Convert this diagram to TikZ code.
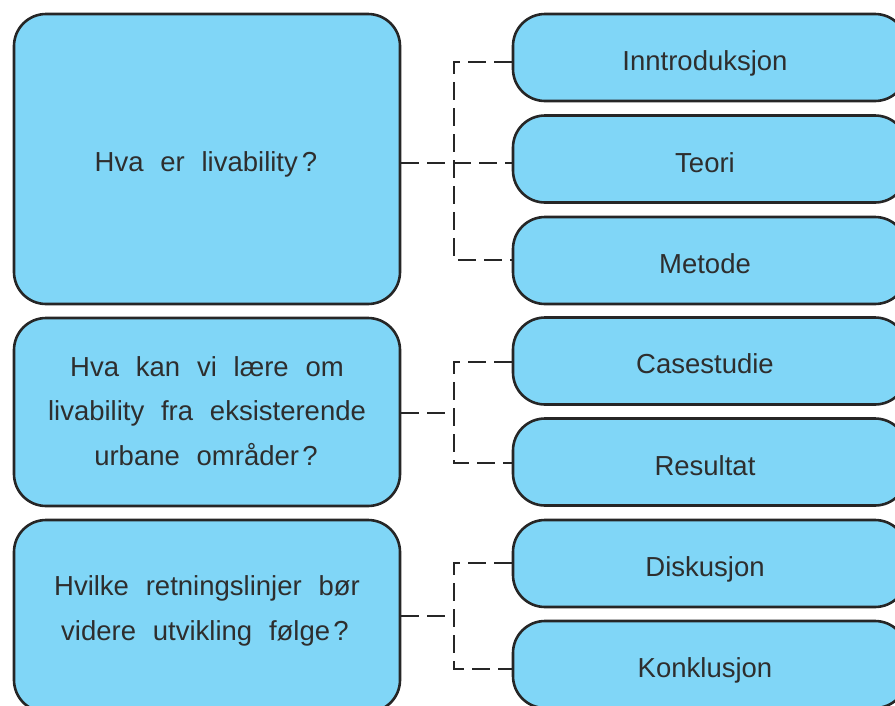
\documentclass[tikz,border=0pt]{standalone}
\usepackage{fontspec}
\setmainfont{Liberation Sans}[WordSpace=2.2]
\definecolor{boxblue}{HTML}{80D6F7}
\definecolor{boxline}{HTML}{262626}
\definecolor{txtdark}{HTML}{2E2E2E}
\begin{document}
\begin{tikzpicture}[x=1pt,y=-1pt,
  box/.style={draw=boxline,fill=boxblue,line width=2.6pt,rounded corners=32pt,inner sep=0pt},
  qbox/.style={box,minimum width=386pt},
  rbox/.style={box,minimum width=394pt,minimum height=87pt},
  txt/.style={anchor=base,inner sep=0pt,text=txtdark,font=\fontsize{27.5}{33}\selectfont},
  conn/.style={draw=boxline,line width=2.6pt,dash pattern=on 18pt off 8pt}]
\useasboundingbox (0,0) rectangle (895,705);
% left question boxes
\node[qbox,minimum height=290pt] (q1) at (207,159) {};
\node[qbox,minimum height=188pt] (q2) at (207,412) {};
\node[qbox,minimum height=192pt] (q3) at (207,616) {};
% right boxes
\node[rbox] (r1) at (710,57.5) {};
\node[rbox] (r2) at (710,159) {};
\node[rbox] (r3) at (710,260.5) {};
\node[rbox] (r4) at (710,361) {};
\node[rbox] (r5) at (710,462) {};
\node[rbox] (r6) at (710,563.5) {};
\node[rbox] (r7) at (710,664.5) {};
% texts
\node[txt] (q1t) at (206,171) {Hva er livability\kern0.15em?};
\node[txt] (q2a) at (207,376) {Hva kan vi lære om};
\node[txt] (q2b) at (207,420) {livability fra eksisterende};
\node[txt] (q2c) at (206,465) {urbane områder\kern0.12em?};
\node[txt] (q3a) at (207,595) {Hvilke retningslinjer bør};
\node[txt] (q3b) at (205,640) {videre utvikling følge\kern0.12em?};
\node[txt] (r1t) at (705,70) {Inntroduksjon};
\node[txt] (r2t) at (705,172) {Teori};
\node[txt] (r3t) at (705,273) {Metode};
\node[txt] (r4t) at (705,373) {Casestudie};
\node[txt] (r5t) at (705,475) {Resultat};
\node[txt] (r6t) at (705,576) {Diskusjon};
\node[txt] (r7t) at (705,677) {Konklusjon};
% junctions on the trunks
\coordinate (j1) at (454,163);
\coordinate (j2) at (454,413);
\coordinate (j3) at (454,616);
% connectors
\draw[conn] ([yshift=-4pt]q1.east) -- ([yshift=-4pt]r2.west);
\draw[conn] ([yshift=-4.5pt]r1.west) -| (j1) |- ([yshift=0.5pt]r3.west);
\draw[conn] ([yshift=-1pt]q2.east) -- (j2);
\draw[conn] ([yshift=-1pt]r4.west) -| (j2) |- ([yshift=-1pt]r5.west);
\draw[conn] (q3.east) -- (j3);
\draw[conn] ([yshift=0.5pt]r6.west) -| (j3) |- ([yshift=-4.5pt]r7.west);
\end{tikzpicture}
\end{document}
